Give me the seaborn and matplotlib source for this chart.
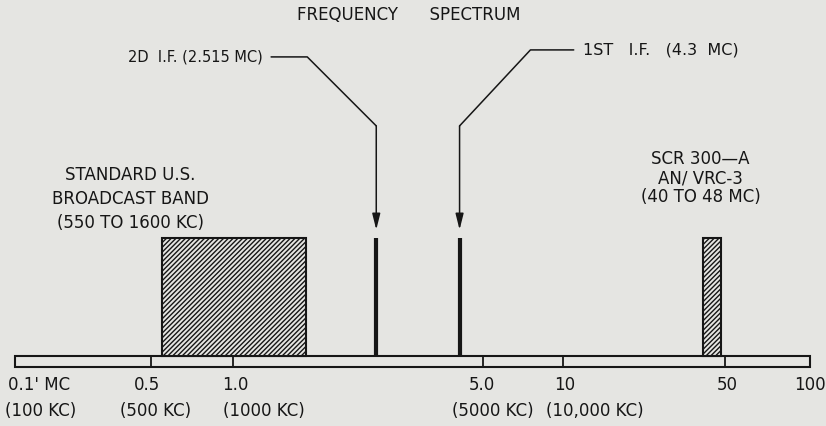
import numpy as np
import matplotlib.pyplot as plt
import seaborn as sns

# -------------------------
# data (frequencies in MC)
# -------------------------
band_lo = [0.55, 40.0]
band_hi = [1.6, 48.0]
band_height = [1.0, 1.0]
band_labels = ["STANDARD U.S.\nBROADCAST BAND\n(550 TO 1600 KC)",
               "SCR 300\u2014A\nAN/ VRC-3\n(40 TO 48 MC)"]

if_freqs = [2.515, 4.3]
if_height = [1.0, 1.0]
if_labels = ["2D  I.F. (2.515 MC)", "1ST   I.F.   (4.3  MC)"]

tick_freqs = [0.1, 0.5, 1.0, 5.0, 10, 50, 100]
tick_mc = ["0.1' MC", "0.5", "1.0", "5.0", "10", "50", "100"]
tick_kc = ["(100 KC)", "(500 KC)", "(1000 KC)", "(5000 KC)", "(10,000 KC)", "", ""]

# -------------------------
# the drawing's hand-made frequency axis (roughly logarithmic)
# -------------------------
cal_log = np.array([-2, -1, np.log10(0.5), 0, np.log10(5), 1, np.log10(50), 2, 3])
cal_pos = np.array([-203, 15, 151, 233, 483, 563, 725, 810, 1057])


def fwd(f):
    f = np.clip(np.asarray(f, dtype=float), 1e-6, None)
    return np.interp(np.log10(f), cal_log, cal_pos)


def inv(p):
    return 10 ** np.interp(np.asarray(p, dtype=float), cal_pos, cal_log)


paper = "#e5e5e2"
ink = "#161616"

sns.set_theme(style="white", rc={"hatch.linewidth": 1.0, "hatch.color": ink})
plt.rcParams["font.family"] = ["DejaVu Sans"]

fig = plt.figure(figsize=(8.26, 4.26), dpi=100, facecolor=paper)
ax = fig.add_axes([0, 0, 1, 1])
ax.set_facecolor(paper)
ax.set_xscale("function", functions=(fwd, inv))
ax.set_xlim(inv(0), inv(826))
ax.set_ylim(-0.593, 3.017)
ax.axis("off")

fs = 12
strip_h = 0.093

# frequency strip
ax.bar(tick_freqs[0], -strip_h, width=tick_freqs[-1] - tick_freqs[0], bottom=0,
       align="edge", facecolor=paper, edgecolor=ink, linewidth=1.5, zorder=2)
ax.vlines(tick_freqs[1:-1], -strip_h, 0, color=ink, linewidth=1.3, zorder=3)

# tick labels, two rows
mc_dx = [-7, -4, 2, -1, 2, 2, 0]
kc_dx = [-10, 5, 31, 10, 32, 0, 0]
for i, f in enumerate(tick_freqs):
    ha = "left" if i == 0 else "center"
    ax.annotate(tick_mc[i], xy=(f, -strip_h), xytext=(mc_dx[i] * 0.72, -13),
                textcoords="offset points", ha=ha, va="center",
                fontsize=fs, color=ink)
    if tick_kc[i]:
        ax.annotate(tick_kc[i], xy=(f, -strip_h), xytext=(kc_dx[i] * 0.72, -32),
                    textcoords="offset points", ha=ha, va="center",
                    fontsize=fs, color=ink)

# hatched bands
widths = np.subtract(band_hi, band_lo)
ax.bar(band_lo, band_height, width=widths, align="edge", facecolor=paper,
       edgecolor=ink, hatch="///////", linewidth=1.5, zorder=2)
band_dx = [-95, -11]
band_dy = [39, 60]
band_ls = [1.4, 1.1]
for lo, hi, h, lab, dx, dy, ls in zip(band_lo, band_hi, band_height, band_labels,
                                      band_dx, band_dy, band_ls):
    mid = np.sqrt(lo * hi)
    ax.annotate(lab, xy=(mid, h), xytext=(dx * 0.72, dy * 0.72),
                textcoords="offset points", ha="center", va="center",
                fontsize=fs, color=ink, linespacing=ls, multialignment="center")

# intermediate frequencies
ax.vlines(if_freqs, 0, if_height, color=ink, linewidth=3, zorder=3)

arrow_tip = 1.07
bend_y = 1.95
lead_dx = [-114, 123]
lead_dy = [69, 76]
lead_angle = [135, 47]
lead_ha = ["right", "left"]
lead_rel = [(1, 0.5), (0, 0.5)]
lead_fs = [10.5, 11.5]
for f, lab, dx, dy, ang, ha, rel, lfs in zip(if_freqs, if_labels, lead_dx, lead_dy,
                                             lead_angle, lead_ha, lead_rel, lead_fs):
    ax.annotate("", xy=(f, arrow_tip), xytext=(f, bend_y),
                arrowprops=dict(arrowstyle="-|>,head_length=0.8,head_width=0.2",
                                color=ink, lw=1.1, shrinkA=0, shrinkB=0))
    ax.annotate(lab, xy=(f, bend_y), xytext=(dx * 0.72, dy * 0.72),
                textcoords="offset points", ha=ha, va="center",
                fontsize=lfs, color=ink,
                arrowprops=dict(arrowstyle="-", color=ink, lw=1.1,
                                connectionstyle=f"angle,angleA=0,angleB={ang},rad=0",
                                shrinkA=4, shrinkB=0, relpos=rel))

fig.text(409 / 826, 1 - 15 / 426, "FREQUENCY      SPECTRUM", ha="center", va="center",
         fontsize=fs, color=ink)

fig.savefig("out.png", dpi=100, facecolor=paper)
